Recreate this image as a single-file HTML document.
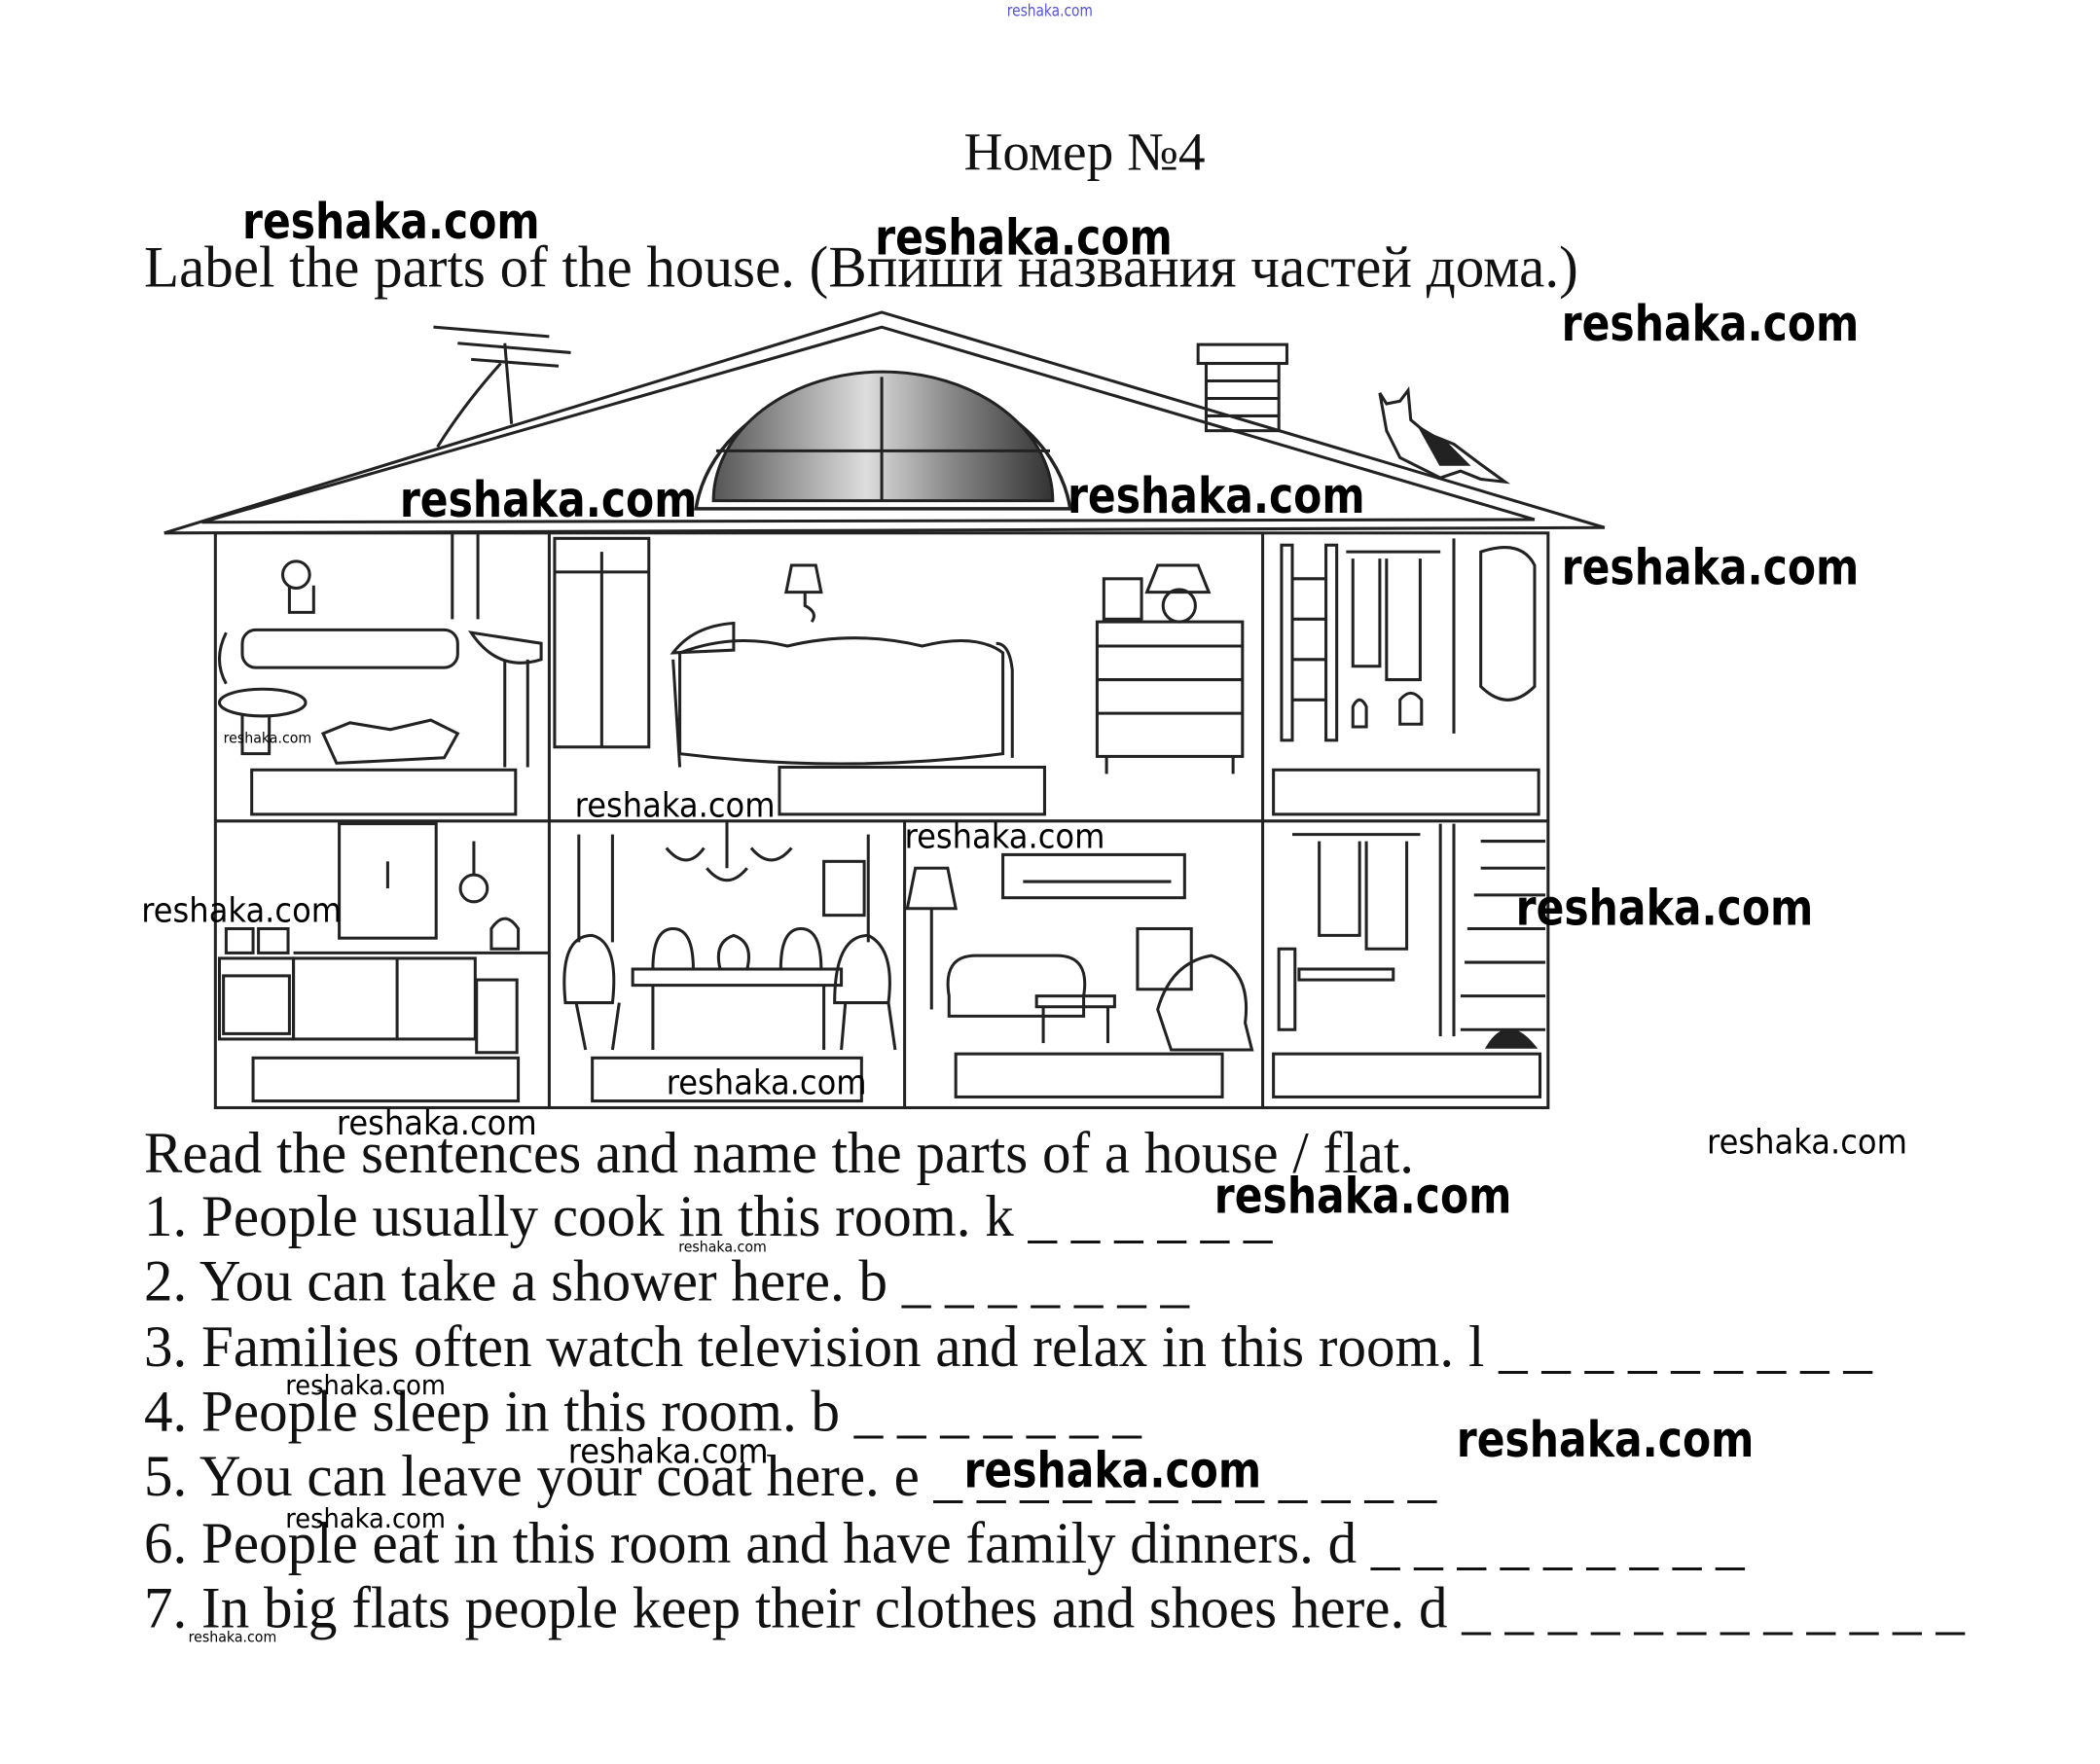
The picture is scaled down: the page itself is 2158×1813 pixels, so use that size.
<!DOCTYPE html>
<html><head><meta charset="utf-8"><style>
html,body{margin:0;padding:0;background:#fff;}
#wrap{position:relative;width:2158px;height:1813px;overflow:hidden;background:#fff;}
#s{position:absolute;left:0;top:0;width:1560px;height:1311px;transform:scale(1.38333);transform-origin:0 0;}
.t{position:absolute;font-family:"Liberation Serif",serif;font-size:44px;color:#111;white-space:nowrap;line-height:1;transform:scaleX(0.97);transform-origin:0 0;}
.w{position:absolute;font-family:"DejaVu Sans","Liberation Sans",sans-serif;font-weight:bold;color:#000;white-space:nowrap;line-height:1;transform:scaleX(0.83);transform-origin:0 0;}
.m{font-weight:normal;transform:scaleX(0.93);}
svg{position:absolute;left:0;top:0;}
</style></head><body><div id="wrap"><div id="s">
<svg width="1560" height="1311" viewBox="0 0 1560 1311">
<defs><linearGradient id="g" x1="0" x2="1"><stop offset="0" stop-color="#555"/><stop offset="0.45" stop-color="#ddd"/><stop offset="0.7" stop-color="#888"/><stop offset="1" stop-color="#333"/></linearGradient></defs>
<g fill="none" stroke="#222" stroke-width="2.2">
<polyline points="122,396 655,232 1192,392"/>
<polyline points="150,388 655,243 1140,386"/>
<line x1="122" y1="396" x2="1192" y2="392"/>
<line x1="150" y1="388" x2="1140" y2="386"/>
<path d="M517,378 A140,110 0 0 1 795,378 Z" stroke-width="2.5"/>
<path d="M530,372 A125,95 0 0 1 782,372 Z" fill="url(#g)"/>
<line x1="655" y1="280" x2="655" y2="372"/><line x1="532" y1="335" x2="780" y2="335"/>
<line x1="375" y1="255" x2="380" y2="315"/><line x1="322" y1="243" x2="408" y2="250"/><line x1="340" y1="255" x2="424" y2="262"/><line x1="350" y1="267" x2="415" y2="272"/>
<path d="M372,270 Q345,300 325,332"/>
<rect x="890" y="256" width="66" height="14"/><rect x="896" y="270" width="54" height="50"/>
<line x1="896" y1="283" x2="950" y2="283"/><line x1="896" y1="296" x2="950" y2="296"/><line x1="896" y1="309" x2="950" y2="309"/>
<path d="M1025,292 L1030,300 1040,298 1046,290 1048,312 1060,322 1080,330 1100,345 1118,358 1100,356 1085,350 1070,355 1040,340 1030,320 Z" fill="#fff"/>
<path d="M1055,318 L1075,330 1090,345 1070,345 Z" fill="#222"/>
<rect x="160" y="396" width="990" height="427"/>
<line x1="160" y1="610" x2="1150" y2="610"/>
<line x1="408" y1="396" x2="408" y2="823"/>
<line x1="938" y1="396" x2="938" y2="823"/>
<line x1="672" y1="610" x2="672" y2="823"/>
<rect x="187" y="572" width="196" height="33"/><rect x="579" y="570" width="197" height="35"/><rect x="946" y="572" width="197" height="33"/>
<rect x="188" y="786" width="197" height="32"/><rect x="440" y="786" width="200" height="32"/><rect x="710" y="783" width="198" height="32"/><rect x="946" y="783" width="198" height="32"/>
<line x1="336" y1="396" x2="336" y2="460"/><line x1="355" y1="396" x2="355" y2="460"/>
<rect x="180" y="468" width="160" height="28" rx="10"/><path d="M168,470 q-10,20 0,38"/>
<ellipse cx="195" cy="522" rx="32" ry="10"/><path d="M180,530 v30 h20 v-28"/>
<path d="M350,470 q20,30 52,20 v-12 z"/><line x1="375" y1="490" x2="375" y2="570"/><line x1="392" y1="490" x2="392" y2="570"/>
<circle cx="220" cy="427" r="10"/><path d="M215,435 v20 h18 v-20"/>
<path d="M240,545 l20,-8 30,5 30,-7 20,10 -10,18 -80,4 z"/>
<rect x="412" y="400" width="70" height="155"/><line x1="447" y1="410" x2="447" y2="555"/><line x1="412" y1="425" x2="482" y2="425"/>
<path d="M505,485 q40,-15 80,-5 q50,-12 100,0 q40,-10 60,5 v75 q-120,15 -240,0 z"/>
<path d="M500,485 q15,-20 45,-22 v20 z"/><line x1="500" y1="490" x2="505" y2="570"/>
<path d="M740,478 q10,0 12,20 v65"/>
<path d="M588,420 h18 l4,20 h-26 z"/><path d="M598,440 v10 q10,5 5,12"/>
<rect x="815" y="462" width="108" height="100"/><line x1="815" y1="480" x2="923" y2="480"/><line x1="815" y1="505" x2="923" y2="505"/><line x1="815" y1="530" x2="923" y2="530"/><line x1="822" y1="562" x2="822" y2="575"/><line x1="916" y1="562" x2="916" y2="575"/>
<path d="M860,420 h30 l8,20 h-46 z"/><circle cx="876" cy="450" r="12"/>
<rect x="820" y="430" width="28" height="30"/>
<rect x="952" y="405" width="8" height="145"/><rect x="985" y="405" width="8" height="145"/>
<line x1="960" y1="430" x2="985" y2="430"/><line x1="960" y1="460" x2="985" y2="460"/><line x1="960" y1="490" x2="985" y2="490"/><line x1="960" y1="520" x2="985" y2="520"/>
<path d="M1000,410 h70 M1005,415 v80 h20 v-80 M1030,415 v90 h25 v-90"/><line x1="1080" y1="400" x2="1080" y2="545"/>
<path d="M1100,410 q30,-10 40,10 v90 q-20,20 -40,0 z"/>
<path d="M1005,525 q5,-10 10,0 v15 h-10 z M1040,520 q8,-10 16,0 v18 h-16 z"/>
<rect x="252" y="612" width="72" height="85"/><line x1="288" y1="640" x2="288" y2="660"/>
<circle cx="352" cy="660" r="10"/><line x1="352" y1="625" x2="352" y2="650"/>
<rect x="163" y="712" width="55" height="60"/><rect x="166" y="725" width="49" height="43"/>
<rect x="218" y="712" width="135" height="60"/><line x1="295" y1="712" x2="295" y2="772"/>
<line x1="218" y1="708" x2="408" y2="708"/><rect x="354" y="728" width="30" height="54"/>
<path d="M365,690 q10,-15 20,0 v15 h-20 z"/><rect x="168" y="690" width="20" height="18"/><rect x="192" y="690" width="22" height="18"/>
<line x1="430" y1="620" x2="430" y2="700"/><line x1="455" y1="620" x2="455" y2="700"/><line x1="645" y1="620" x2="645" y2="700"/>
<path d="M495,630 q15,18 28,0 M525,645 q15,18 30,0 M558,630 q15,18 30,0"/><line x1="540" y1="610" x2="540" y2="645"/>
<rect x="612" y="640" width="30" height="40"/>
<rect x="470" y="720" width="155" height="12"/><line x1="485" y1="732" x2="485" y2="780"/><line x1="612" y1="732" x2="612" y2="780"/>
<path d="M535,720 q-5,-20 10,-25 q15,5 10,25"/>
<path d="M420,745 q-5,-50 20,-50 q20,5 15,50 z M485,720 q0,-30 15,-30 q15,0 15,30 M580,720 q0,-30 15,-30 q15,0 15,30 M620,745 q0,-50 25,-50 q20,10 15,50 z"/>
<line x1="428" y1="745" x2="435" y2="780"/><line x1="460" y1="745" x2="455" y2="780"/><line x1="628" y1="745" x2="625" y2="780"/><line x1="660" y1="745" x2="665" y2="780"/>
<rect x="745" y="635" width="135" height="32"/><path d="M760,655 h110"/>
<path d="M680,645 h24 l6,30 h-36 z"/><line x1="692" y1="675" x2="692" y2="750"/>
<path d="M705,740 q-5,-30 20,-30 h60 q25,0 20,30 v15 h-100 z"/>
<rect x="770" y="740" width="58" height="8"/><line x1="775" y1="748" x2="775" y2="775"/><line x1="823" y1="748" x2="823" y2="775"/>
<rect x="845" y="690" width="40" height="45"/>
<path d="M860,750 q10,-35 40,-40 q30,10 25,50 l5,20 h-60 z"/>
<line x1="960" y1="620" x2="1055" y2="620"/><path d="M980,625 v70 h30 v-70 M1015,625 v80 h30 v-80"/>
<line x1="1070" y1="612" x2="1070" y2="770"/><line x1="1080" y1="612" x2="1080" y2="770"/>
<line x1="1100" y1="625" x2="1148" y2="625"/><line x1="1100" y1="645" x2="1148" y2="645"/><line x1="1095" y1="665" x2="1148" y2="665"/><line x1="1090" y1="690" x2="1148" y2="690"/><line x1="1088" y1="715" x2="1148" y2="715"/><line x1="1085" y1="740" x2="1148" y2="740"/><line x1="1085" y1="765" x2="1148" y2="765"/>
<rect x="965" y="720" width="70" height="8"/><rect x="950" y="705" width="12" height="60"/>
<path d="M1105,778 q15,-25 35,0 z" fill="#222"/>
</g>
</svg>
<div class="t" style="left:716px;top:93px;font-size:40px;transform:none;">Номер №4</div>
<div class="t" style="left:107px;top:177px;">Label the parts of the house. (Впиши названия частей дома.)</div>
<div class="t" style="left:107px;top:835px;">Read the sentences and name the parts of a house / flat.</div>
<div class="t" style="left:107px;top:882px;">1. People usually cook in this room. k _ _ _ _ _ _</div>
<div class="t" style="left:107px;top:930px;">2. You can take a shower here. b _ _ _ _ _ _ _</div>
<div class="t" style="left:107px;top:979px;">3. Families often watch television and relax in this room. l _ _ _ _ _ _ _ _ _</div>
<div class="t" style="left:107px;top:1027px;">4. People sleep in this room. b _ _ _ _ _ _ _</div>
<div class="t" style="left:107px;top:1075px;">5. You can leave your coat here. e _ _ _ _ _ _ _ _ _ _ _ _</div>
<div class="t" style="left:107px;top:1125px;">6. People eat in this room and have family dinners. d _ _ _ _ _ _ _ _ _</div>
<div class="t" style="left:107px;top:1173px;">7. In big flats people keep their clothes and shoes here. d _ _ _ _ _ _ _ _ _ _ _ _</div>

<div class="w" style="left:748px;top:2px;font-size:12px;font-weight:normal;color:#55c;">reshaka.com</div>
<div class="w" style="left:180px;top:146px;font-size:37px;">reshaka.com</div>
<div class="w" style="left:650px;top:158px;font-size:37px;">reshaka.com</div>
<div class="w" style="left:1160px;top:222px;font-size:37px;">reshaka.com</div>
<div class="w" style="left:297px;top:353px;font-size:37px;">reshaka.com</div>
<div class="w" style="left:793px;top:350px;font-size:37px;">reshaka.com</div>
<div class="w" style="left:1160px;top:403px;font-size:37px;">reshaka.com</div>
<div class="w m" style="left:166px;top:543px;font-size:11px;">reshaka.com</div>
<div class="w m" style="left:427px;top:586px;font-size:25px;">reshaka.com</div>
<div class="w m" style="left:672px;top:609px;font-size:25px;">reshaka.com</div>
<div class="w m" style="left:105px;top:664px;font-size:25px;">reshaka.com</div>
<div class="w" style="left:1126px;top:656px;font-size:37px;">reshaka.com</div>
<div class="w m" style="left:495px;top:792px;font-size:25px;">reshaka.com</div>
<div class="w m" style="left:250px;top:822px;font-size:25px;">reshaka.com</div>
<div class="w m" style="left:1268px;top:836px;font-size:25px;">reshaka.com</div>
<div class="w" style="left:902px;top:870px;font-size:37px;">reshaka.com</div>
<div class="w m" style="left:504px;top:921px;font-size:11px;">reshaka.com</div>
<div class="w m" style="left:212px;top:1019px;font-size:20px;">reshaka.com</div>
<div class="w" style="left:1082px;top:1051px;font-size:37px;">reshaka.com</div>
<div class="w m" style="left:422px;top:1066px;font-size:25px;">reshaka.com</div>
<div class="w" style="left:716px;top:1074px;font-size:37px;">reshaka.com</div>
<div class="w m" style="left:212px;top:1118px;font-size:20px;">reshaka.com</div>
<div class="w m" style="left:140px;top:1211px;font-size:11px;">reshaka.com</div>
</div></div></body></html>
